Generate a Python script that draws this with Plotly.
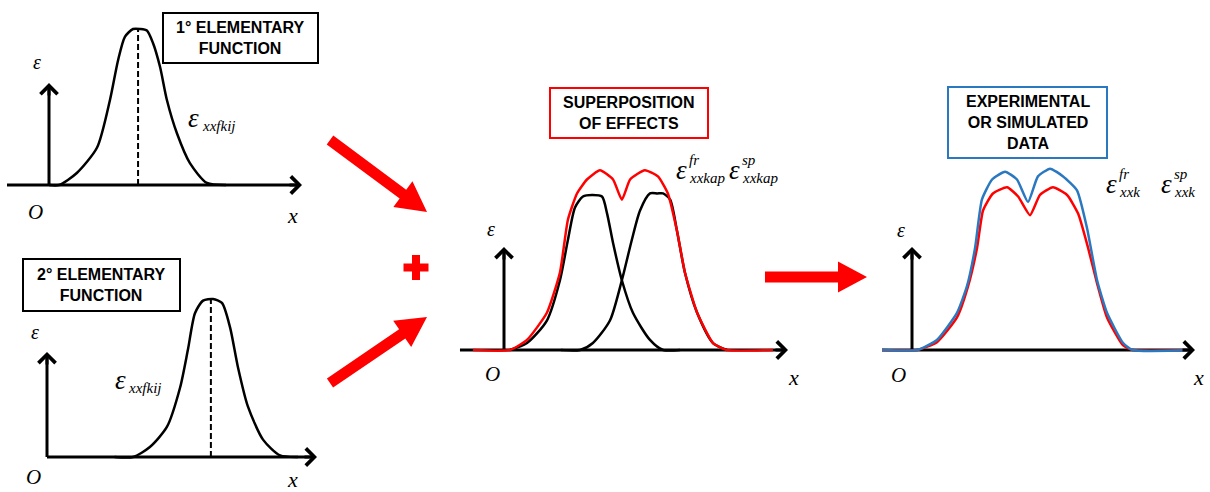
import math
import plotly.graph_objects as go

W, H = 1210, 492

# ---------------- curve samples (x: axis units, y: strain, peak of an elementary function = 1) ----------------
# 1st elementary function
fn1_x = [0.0, 0.4, 1.1, 1.9, 2.41, 2.73, 3.0, 3.32, 3.6, 3.87, 4.11, 4.39, 4.66, 5.06, 5.57, 6.24, 7.0]
fn1_y = [0.0, 0.0, 0.077, 0.24, 0.545, 0.80, 0.95, 1.0, 1.0, 0.99, 0.91, 0.756, 0.545, 0.33, 0.14, 0.013, 0.0]
fn1_peak = (3.52, 1.0)

# 2nd elementary function
fn2_x = [2.5, 3.19, 3.81, 4.44, 4.93, 5.22, 5.48, 5.78, 6.15, 6.48, 6.78, 7.07, 7.44, 8.0, 8.63, 9.3]
fn2_y = [0.0, 0.0, 0.063, 0.19, 0.44, 0.68, 0.91, 0.99, 1.0, 0.975, 0.82, 0.57, 0.32, 0.11, 0.01, 0.0]
fn2_peak = (6.07, 1.0)

# superposition of effects: two shifted elementary functions and their sum
sup_a_x = [0.21, 0.81, 1.51, 1.97, 2.25, 2.5, 2.78, 3.1, 3.45, 3.63, 3.84, 4.15, 4.54, 5.14, 5.6, 6.2]
sup_a_y = [0.0, 0.045, 0.19, 0.45, 0.71, 0.92, 0.99, 1.0, 0.99, 0.88, 0.69, 0.45, 0.24, 0.065, 0.0, 0.0]
sup_b_x = [2.0, 2.68, 3.13, 3.73, 4.15, 4.5, 4.79, 5.14, 5.4, 5.6, 5.85, 6.09, 6.37, 6.8, 7.36, 7.85]
sup_b_y = [0.0, 0.0, 0.045, 0.19, 0.45, 0.71, 0.9, 1.01, 1.01, 1.01, 0.97, 0.77, 0.5, 0.24, 0.045, 0.0]
sup_sum_x = [-1.09, 0.21, 0.81, 1.51, 1.97, 2.25, 2.57, 2.92, 3.38, 3.84, 4.15, 4.44, 4.96, 5.42,
             5.77, 6.09, 6.37, 6.8, 7.36, 7.85, 9.47]
sup_sum_y = [0.0, 0.0, 0.065, 0.24, 0.5, 0.84, 1.01, 1.10, 1.16, 1.10, 0.97, 1.10, 1.16, 1.12,
             1.01, 0.77, 0.5, 0.24, 0.045, 0.0, 0.0]

# experimental / simulated data
exp_red_x = [-1.06, 0.18, 0.88, 1.59, 1.98, 2.3, 2.51, 2.86, 3.36, 3.75, 4.17, 4.52, 4.98, 5.48,
             5.87, 6.22, 6.54, 6.89, 7.46, 7.8, 9.93]
exp_red_y = [0.0, 0.0, 0.05, 0.21, 0.41, 0.66, 0.9, 1.01, 1.05, 0.99, 0.87, 1.0, 1.05, 1.0,
             0.88, 0.66, 0.43, 0.21, 0.03, 0.0, 0.0]
exp_blue_x = [-1.06, 0.18, 0.88, 1.59, 1.94, 2.23, 2.47, 2.83, 3.29, 3.71, 4.1, 4.45, 4.88, 5.34,
              5.83, 6.18, 6.54, 6.89, 7.46, 7.8, 9.93]
exp_blue_y = [0.0, 0.0, 0.065, 0.24, 0.41, 0.66, 0.97, 1.10, 1.15, 1.10, 0.955, 1.12, 1.17, 1.12,
              1.03, 0.79, 0.45, 0.24, 0.045, 0.0, 0.0]

# box titles
titles = ["1° ELEMENTARY<br>FUNCTION", "2° ELEMENTARY<br>FUNCTION",
          "SUPERPOSITION<br>OF EFFECTS", "EXPERIMENTAL<br>OR SIMULATED<br>DATA"]

RED = "#ff0000"
BLUE = "#2a78c0"
SERIF = "Liberation Serif, Times New Roman, serif"
SANS = "Liberation Sans, Arial, sans-serif"

# ---------------- panel geometry (pixels) ----------------
# region: (left, right, top, bottom); origin: pixel of (0,0); sx/sy: pixels per unit
panels = [
    dict(region=(0, 320, 0, 242), origin=(49, 185), sx=25.3, sy=156, xstart=-1.66, xtip=10.0, ytip=0.654),
    dict(region=(0, 320, 245, 492), origin=(47, 457), sx=27.0, sy=158, xstart=0.0, xtip=10.0, ytip=0.665),
    dict(region=(455, 812, 80, 400), origin=(504, 350), sx=28.4, sy=155, xstart=-1.55, xtip=10.0, ytip=0.665),
    dict(region=(865, 1210, 80, 400), origin=(912, 350), sx=28.3, sy=155, xstart=-1.06, xtip=10.0, ytip=0.665),
]


def px(x):
    return x / W


def py(y):
    return 1 - y / H


fig = go.Figure()
layout_axes = {}
shapes = []
annotations = []

for i, p in enumerate(panels, start=1):
    l, r, t, b = p["region"]
    ox, oy = p["origin"]
    sfx = "" if i == 1 else str(i)
    layout_axes["xaxis" + sfx] = dict(domain=[px(l), px(r)], range=[(l - ox) / p["sx"], (r - ox) / p["sx"]],
                                      visible=False, anchor="y" + sfx, fixedrange=True)
    layout_axes["yaxis" + sfx] = dict(domain=[py(b), py(t)], range=[(oy - b) / p["sy"], (oy - t) / p["sy"]],
                                      visible=False, anchor="x" + sfx, fixedrange=True)
    xr, yr = "x" + sfx, "y" + sfx
    # axis shafts below the curves
    shapes.append(dict(type="line", xref=xr, yref=yr, x0=p["xstart"], y0=0,
                       x1=p["xtip"] - 3 / p["sx"], y1=0, line=dict(color="black", width=3), layer="below"))
    shapes.append(dict(type="line", xref=xr, yref=yr, x0=0, y0=0,
                       x1=0, y1=p["ytip"] - 3 / p["sy"], line=dict(color="black", width=3), layer="below"))
    # arrow heads
    annotations.append(dict(x=p["xtip"], y=0, xref=xr, yref=yr, ax=-14, ay=0, text="", showarrow=True,
                            arrowhead=4, arrowsize=1.1, arrowwidth=3, arrowcolor="black", standoff=0))
    annotations.append(dict(x=0, y=p["ytip"], xref=xr, yref=yr, ax=0, ay=14, text="", showarrow=True,
                            arrowhead=4, arrowsize=1.1, arrowwidth=3, arrowcolor="black", standoff=0))


def curve(x, y, color, axis, width=2.5, smoothing=0.7):
    return go.Scatter(x=x, y=y, mode="lines", xaxis="x" + axis, yaxis="y" + axis,
                      line=dict(color=color, width=width, shape="spline", smoothing=smoothing),
                      hoverinfo="skip", showlegend=False)


def peak_line(peak, axis):
    return go.Scatter(x=[peak[0], peak[0]], y=[0, peak[1]], mode="lines", xaxis="x" + axis, yaxis="y" + axis,
                      line=dict(color="black", width=2, dash="6px,3px"), hoverinfo="skip", showlegend=False)


fig.add_trace(peak_line(fn1_peak, ""))
fig.add_trace(curve(fn1_x, fn1_y, "black", ""))
fig.add_trace(peak_line(fn2_peak, "2"))
fig.add_trace(curve(fn2_x, fn2_y, "black", "2"))
fig.add_trace(curve(sup_a_x, sup_a_y, "black", "3"))
fig.add_trace(curve(sup_b_x, sup_b_y, "black", "3"))
fig.add_trace(curve(sup_sum_x, sup_sum_y, RED, "3", smoothing=0.5))
fig.add_trace(curve(exp_red_x, exp_red_y, RED, "4", smoothing=0.5))
fig.add_trace(curve(exp_blue_x, exp_blue_y, BLUE, "4", smoothing=0.5))


# ---------------- boxes with titles ----------------
def box(x0, y0, x1, y1, color, text):
    shapes.append(dict(type="rect", xref="paper", yref="paper", x0=px(x0), y0=py(y1), x1=px(x1), y1=py(y0),
                       line=dict(color=color, width=2), fillcolor="white"))
    annotations.append(dict(x=px((x0 + x1) / 2), y=py((y0 + y1) / 2), xref="paper", yref="paper",
                            text="<b>" + text + "</b>", showarrow=False, xanchor="center", yanchor="middle",
                            font=dict(family=SANS, size=16, color="black")))


box(163, 13, 318, 63, "black", titles[0])
box(23, 259, 180, 311, "black", titles[1])
box(550, 88, 708, 138, RED, titles[2])
box(948, 87, 1107, 158, BLUE, titles[3])


# ---------------- math labels ----------------
def label(text, x, y, size, xanchor="center"):
    annotations.append(dict(x=px(x), y=py(y), xref="paper", yref="paper", text="<i>" + text + "</i>",
                            showarrow=False, xanchor=xanchor, yanchor="middle",
                            font=dict(family=SERIF, size=size, color="black")))


# axis symbols
for (ex, ey), (oxl, oyl), (xx, xy) in [((37, 62), (35, 212), (292, 216)),
                                       ((35, 332), (33, 477), (292, 479)),
                                       ((491, 229), (492, 374), (793, 377)),
                                       ((901, 230), (898, 375), (1198, 377))]:
    label("ε", ex, ey, 20)
    label("O", oxl, oyl, 21)
    label("x", xx, xy, 22)


def strain_symbol(x, y, sub, sup=None):
    label("ε", x, y, 27)
    label(sub, x + 6, y + 8, 15, xanchor="left")
    if sup:
        label(sup, x + 6, y - 10, 15, xanchor="left")


strain_symbol(194, 118, "xxfkij")
strain_symbol(120, 380, "xxfkij")
strain_symbol(681, 170, "xxkap", "fr")
strain_symbol(734, 170, "xxkap", "sp")
strain_symbol(1111, 184, "xxk", "fr")
strain_symbol(1166, 184, "xxk", "sp")


# ---------------- red block arrows and plus sign ----------------
def block_arrow(x0, y0, x1, y1, shaft=11, head_w=32, head_l=30):
    dx, dy = x1 - x0, y1 - y0
    L = math.hypot(dx, dy)
    ux, uy = dx / L, dy / L
    nx, ny = -uy, ux
    bx, by = x1 - ux * head_l, y1 - uy * head_l
    pts = [(x0 + nx * shaft / 2, y0 + ny * shaft / 2), (bx + nx * shaft / 2, by + ny * shaft / 2),
           (bx + nx * head_w / 2, by + ny * head_w / 2), (x1, y1),
           (bx - nx * head_w / 2, by - ny * head_w / 2), (bx - nx * shaft / 2, by - ny * shaft / 2),
           (x0 - nx * shaft / 2, y0 - ny * shaft / 2)]
    path = "M " + " L ".join(f"{px(a):.5f},{py(c):.5f}" for a, c in pts) + " Z"
    shapes.append(dict(type="path", xref="paper", yref="paper", path=path, fillcolor=RED, line=dict(width=0)))


block_arrow(330, 140, 427, 212)
block_arrow(330, 383, 427, 317)
block_arrow(765, 277, 867, 277, shaft=11, head_w=31, head_l=29)

# plus sign
cx, cy, arm, th = 416, 267.5, 12.5, 4
shapes.append(dict(type="rect", xref="paper", yref="paper", x0=px(cx - arm), x1=px(cx + arm),
                   y0=py(cy + th), y1=py(cy - th), fillcolor=RED, line=dict(width=0)))
shapes.append(dict(type="rect", xref="paper", yref="paper", x0=px(cx - th), x1=px(cx + th),
                   y0=py(cy + arm), y1=py(cy - arm), fillcolor=RED, line=dict(width=0)))

fig.update_layout(
    width=W, height=H, autosize=False,
    margin=dict(l=0, r=0, t=0, b=0, pad=0),
    paper_bgcolor="white", plot_bgcolor="white",
    showlegend=False,
    shapes=shapes, annotations=annotations,
    **layout_axes,
)

fig.write_html("out.html", config={"displayModeBar": False})
